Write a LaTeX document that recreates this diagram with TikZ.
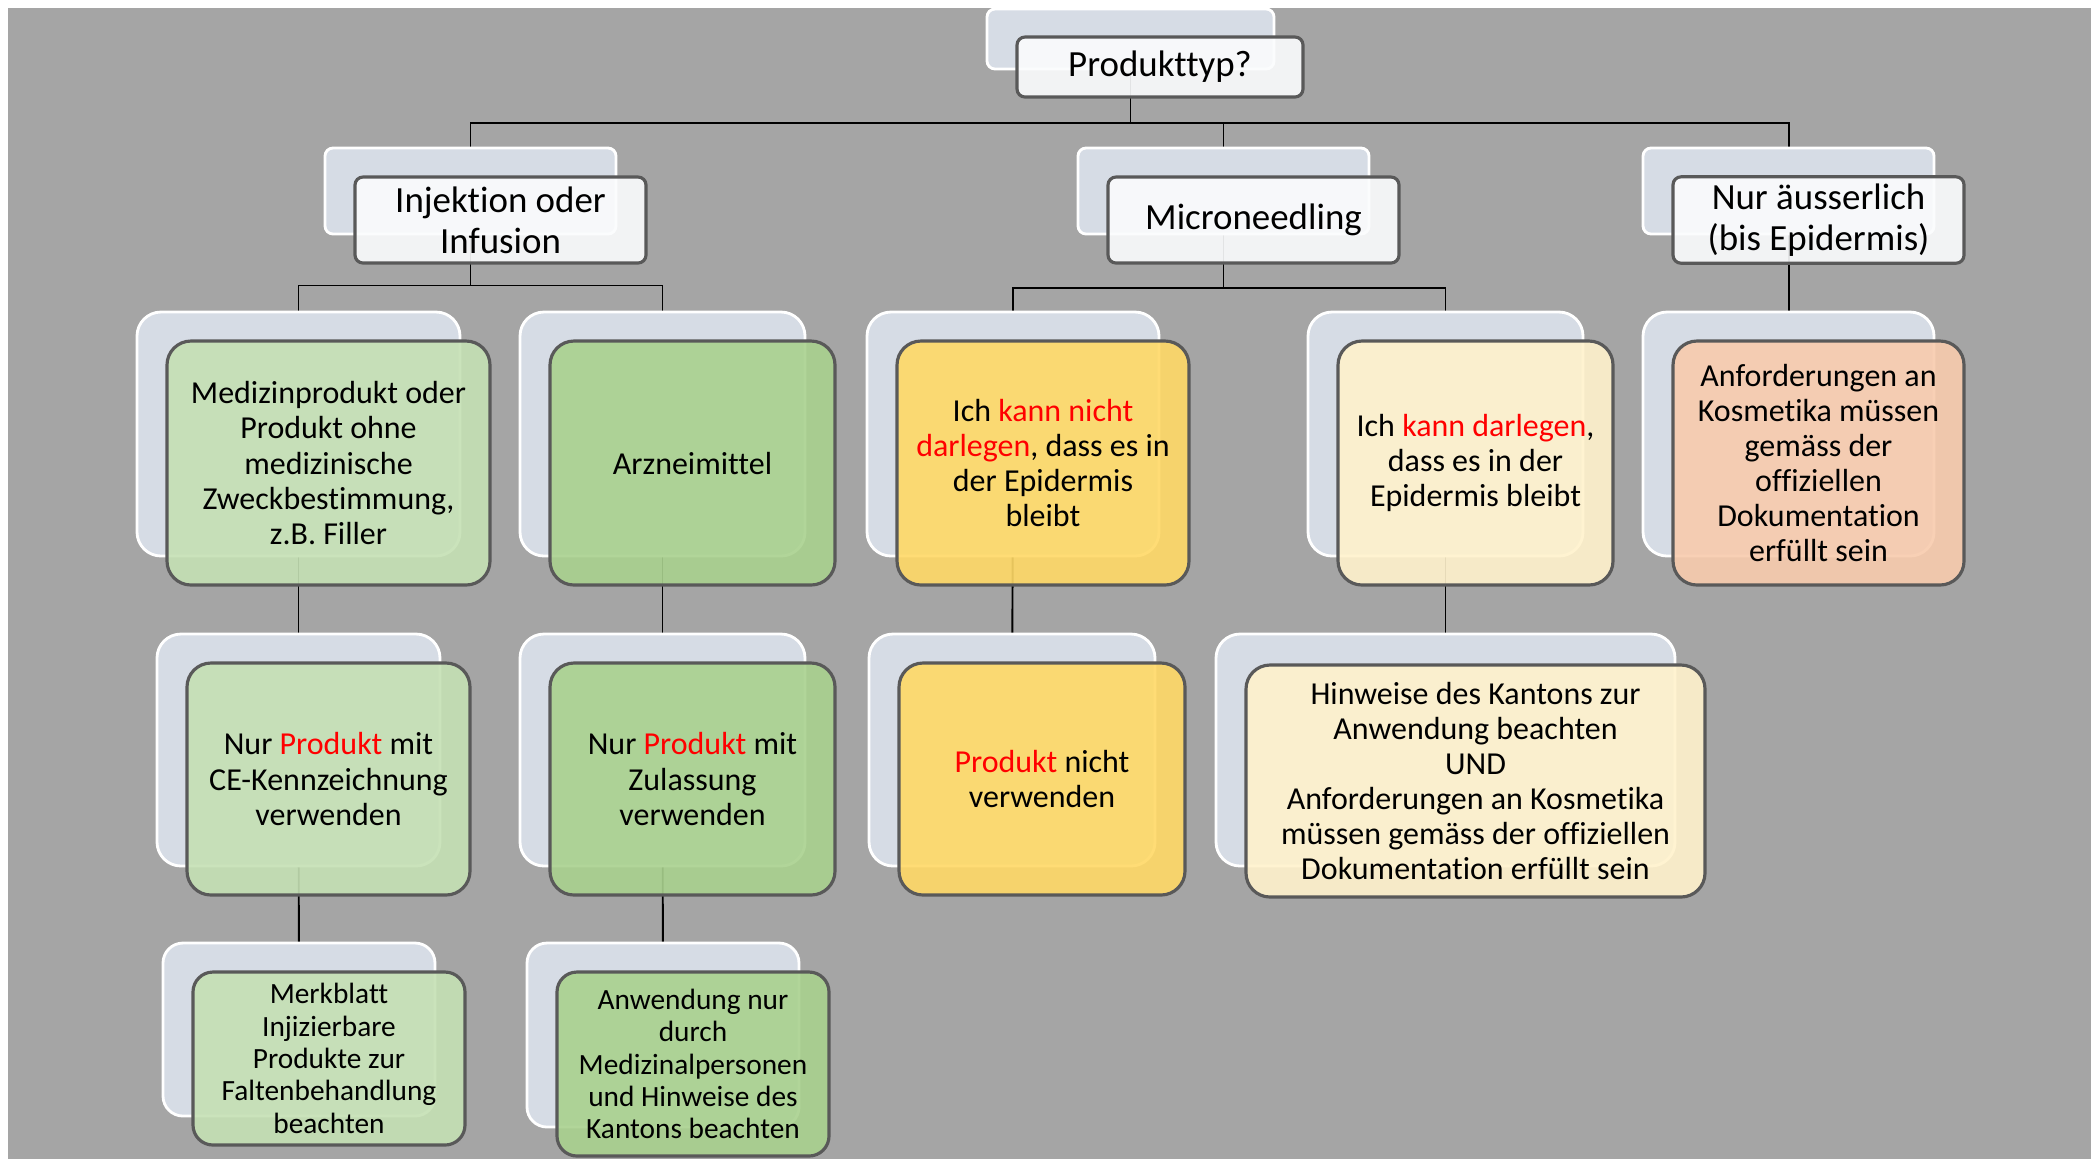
\documentclass[tikz,border=0pt]{standalone}
\usepackage{fontspec}
\setmainfont{Carlito}[Ligatures=NoCommon]
\definecolor{bggray}{HTML}{A5A5A5}
\definecolor{backfill}{HTML}{D6DCE5}
\definecolor{edge}{HTML}{595959}
\definecolor{fwhite}{HTML}{FBFCFD}
\definecolor{lgreen}{HTML}{C5E0B4}
\definecolor{mgreen}{HTML}{A9D18E}
\definecolor{yel}{HTML}{FFD966}
\definecolor{cream}{HTML}{FFF2CC}
\definecolor{peach}{HTML}{F8CBAD}
\newcommand\rd[1]{\textcolor{red}{#1}}
\pgfdeclarelayer{backdrop}
\pgfdeclarelayer{lines}
\pgfsetlayers{backdrop,lines,main}
\tikzset{
  bk/.style={draw=white, line width=0.8pt, fill=backfill, inner sep=0pt},
  fr/.style={draw=edge, line width=0.9pt, fill opacity=0.9, text opacity=1, inner sep=2pt, align=center},
  lvA/.style={rounded corners=0.08cm, minimum width=2.91cm, minimum height=0.86cm, font=\fontsize{10.5pt}{11.6pt}\selectfont},
  lvB/.style={rounded corners=0.24cm, font=\fontsize{9.1pt}{10pt}\selectfont},
  lvC/.style={rounded corners=0.2cm, font=\fontsize{8.35pt}{9.2pt}\selectfont},
  conn/.style={line width=0.55pt, black},
}
\begin{document}
\begin{tikzpicture}
\useasboundingbox (0,0) rectangle (20.91,-11.59);
\begin{pgfonlayer}{backdrop}
  \fill[white] (0,0) rectangle (20.91,-11.59);
  \fill[bggray] (0.08,-0.08) rectangle (20.91,-11.59);
\end{pgfonlayer}

% level 1
\node[bk, rounded corners=0.08cm, minimum width=2.87cm, minimum height=0.60cm] (prodb) at (11.305,-0.39) {};
\node[fr, fill=fwhite, rounded corners=0.08cm, minimum width=2.86cm, minimum height=0.60cm, font=\fontsize{10.5pt}{11.6pt}\selectfont] (prod) at (11.60,-0.67) {Produkttyp?};

% level 2
\node[bk, lvA] (injb) at (4.705,-1.91) {};
\node[fr, lvA, fill=fwhite] (inj) at (5.005,-2.20) {Injektion oder\\Infusion};
\node[bk, lvA] (micb) at (12.235,-1.91) {};
\node[fr, lvA, fill=fwhite] (mic) at (12.535,-2.20) {Microneedling};
\node[bk, lvA] (ausb) at (17.885,-1.91) {};
\node[fr, lvA, fill=fwhite] (aus) at (18.185,-2.20) {Nur äusserlich\\(bis Epidermis)};

% level 3
\node[bk, lvB, minimum width=3.23cm, minimum height=2.44cm] (medb) at (2.985,-4.34) {};
\node[fr, lvB, fill=lgreen, minimum width=3.23cm, minimum height=2.44cm] (med) at (3.285,-4.63) {Medizinprodukt oder\\Produkt ohne\\medizinische\\Zweckbestimmung,\\z.B. Filler};
\node[bk, lvB, minimum width=2.85cm, minimum height=2.44cm] (arzb) at (6.625,-4.34) {};
\node[fr, lvB, fill=mgreen, minimum width=2.85cm, minimum height=2.44cm] (arz) at (6.925,-4.63) {Arzneimittel};
\node[bk, lvB, minimum width=2.92cm, minimum height=2.44cm] (nichtb) at (10.13,-4.34) {};
\node[fr, lvB, fill=yel, minimum width=2.92cm, minimum height=2.44cm] (nicht) at (10.43,-4.63) {Ich \rd{kann nicht}\\\rd{darlegen}, dass es in\\der Epidermis\\bleibt};
\node[bk, lvB, minimum width=2.75cm, minimum height=2.44cm] (darlb) at (14.455,-4.34) {};
\node[fr, lvB, fill=cream, minimum width=2.75cm, minimum height=2.44cm] (darl) at (14.755,-4.63) {Ich \rd{kann darlegen},\\dass es in der\\Epidermis bleibt};
\node[bk, lvB, minimum width=2.91cm, minimum height=2.44cm] (anfb) at (17.885,-4.34) {};
\node[fr, lvB, fill=peach, minimum width=2.91cm, minimum height=2.44cm] (anf) at (18.185,-4.63) {Anforderungen an\\Kosmetika müssen\\gemäss der\\offiziellen\\Dokumentation\\erfüllt sein};

% level 4
\node[bk, lvB, minimum width=2.83cm, minimum height=2.32cm] (ceb) at (2.985,-7.50) {};
\node[fr, lvB, fill=lgreen, minimum width=2.83cm, minimum height=2.32cm] (ce) at (3.285,-7.79) {Nur \rd{Produkt} mit\\CE-Kennzeichnung\\verwenden};
\node[bk, lvB, minimum width=2.85cm, minimum height=2.32cm] (zulb) at (6.625,-7.50) {};
\node[fr, lvB, fill=mgreen, minimum width=2.85cm, minimum height=2.32cm] (zul) at (6.925,-7.79) {Nur \rd{Produkt} mit\\Zulassung\\verwenden};
\node[bk, lvB, minimum width=2.86cm, minimum height=2.32cm] (pnvb) at (10.12,-7.50) {};
\node[fr, lvB, fill=yel, minimum width=2.86cm, minimum height=2.32cm] (pnv) at (10.42,-7.79) {\rd{Produkt} nicht\\verwenden};
\node[bk, lvB, minimum width=4.59cm, minimum height=2.32cm] (hinb) at (14.455,-7.50) {};
\node[fr, lvB, fill=cream, minimum width=4.59cm, minimum height=2.32cm] (hin) at (14.755,-7.81) {Hinweise des Kantons zur\\Anwendung beachten\\UND\\Anforderungen an Kosmetika\\müssen gemäss der offiziellen\\Dokumentation erfüllt sein};

% level 5
\node[bk, lvC, minimum width=2.72cm, minimum height=1.73cm] (merb) at (2.99,-10.295) {};
\node[fr, lvC, fill=lgreen, minimum width=2.72cm, minimum height=1.73cm] (mer) at (3.29,-10.585) {Merkblatt\\Injizierbare\\Produkte zur\\Faltenbehandlung\\beachten};
\node[bk, lvC, minimum width=2.72cm, minimum height=1.84cm] (anwb) at (6.63,-10.35) {};
\node[fr, lvC, fill=mgreen, minimum width=2.72cm, minimum height=1.84cm] (anw) at (6.93,-10.64) {Anwendung nur\\durch\\Medizinalpersonen\\und Hinweise des\\Kantons beachten};

% connectors
\coordinate (busA) at (0,-1.23);
\coordinate (busB) at (0,-2.855);
\coordinate (busC) at (0,-2.88);
\begin{pgfonlayer}{lines}
  \draw[conn] (prodb.center) -- (prodb.center |- busA) -| (injb.center);
  \draw[conn] (prodb.center |- busA) -| (micb.center);
  \draw[conn] (prodb.center |- busA) -| (ausb.center);
  \draw[conn] (injb.center) -- (injb.center |- busB) -| (medb.center);
  \draw[conn] (injb.center |- busB) -| (arzb.center);
  \draw[conn] (micb.center) -- (micb.center |- busC) -| (nichtb.center);
  \draw[conn] (micb.center |- busC) -| (darlb.center);
  \draw[conn] (ausb.center) -- (anfb.center);
  \draw[conn] (medb.center) -- (ceb.center);
  \draw[conn] (arzb.center) -- (zulb.center);
  \draw[conn] (nichtb.center) -- (pnvb.center);
  \draw[conn] (darlb.center) -- (hinb.center);
  \draw[conn] (ceb.center) -- (merb.center);
  \draw[conn] (zulb.center) -- (anwb.center);
\end{pgfonlayer}
\end{tikzpicture}
\end{document}
